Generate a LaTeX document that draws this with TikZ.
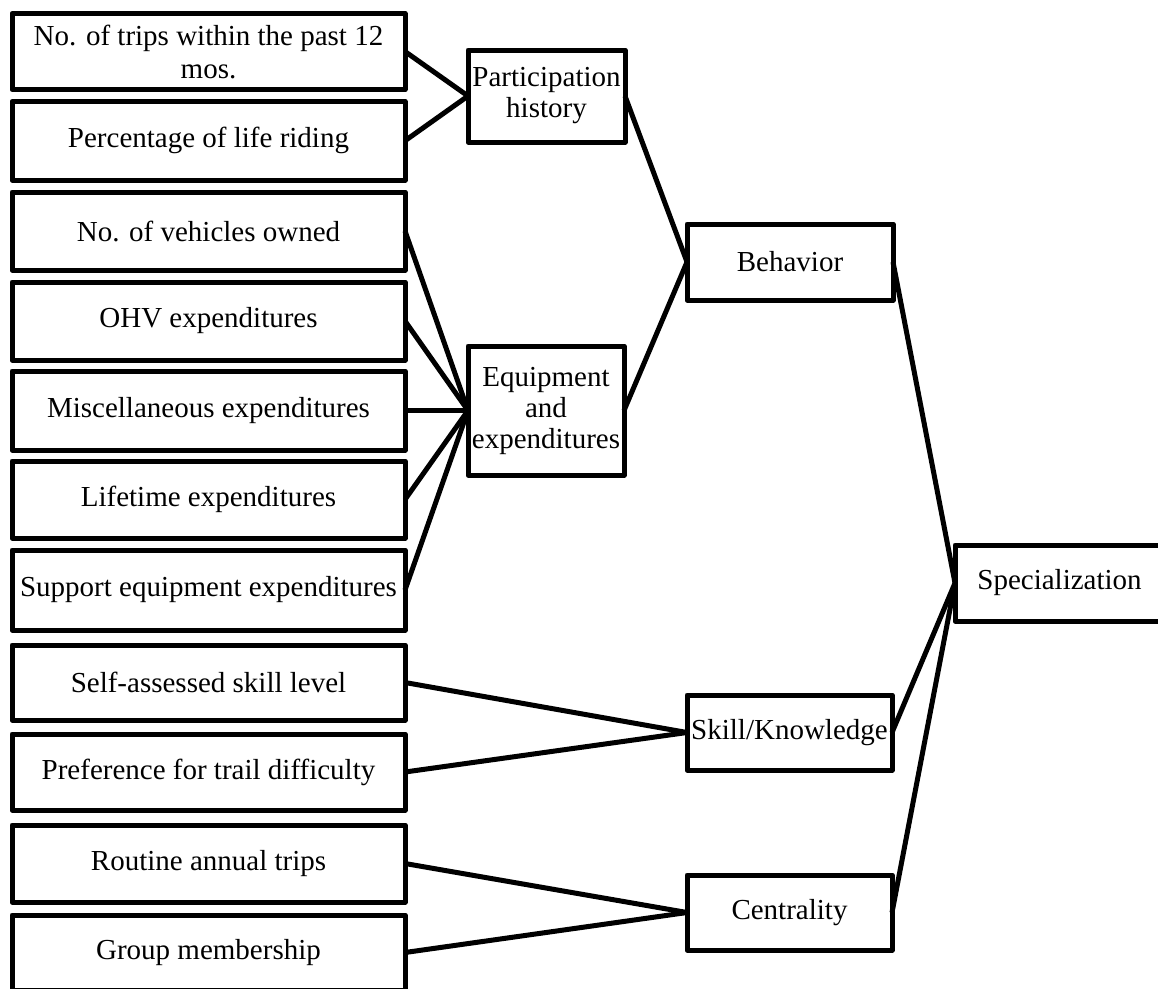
\documentclass[tikz,border=0pt]{standalone}
\usepackage{fontspec}
\setmainfont{Liberation Serif}
\begin{document}
\begin{tikzpicture}[x=1pt,y=-1pt,
  box/.style={draw, line width=5pt, line join=round, inner sep=0pt, outer sep=0pt,
    align=center, font=\fontsize{29}{31}\selectfont},
  leftbox/.style={box, minimum width=393pt},
  midbox/.style={box, minimum width=157pt},
  catbox/.style={box, minimum width=205pt},
  link/.style={line width=5pt}]
\useasboundingbox (0,0) rectangle (1158,988);
\clip (0,0) rectangle (1158,988);
\fill[white] (0,0) rectangle (1158,988);
% left indicator boxes
\node[leftbox, minimum height=76pt, font=\fontsize{29}{33}\selectfont] (l1) at (208.5,51.5) {No. of trips within the past 12\\mos.};
\node[leftbox, minimum height=78.5pt] (l2) at (208.5,140.75) {Percentage of life riding};
\node[leftbox, minimum height=78pt] (l3) at (208.5,231) {No. of vehicles owned};
\node[leftbox, minimum height=78pt] (l4) at (208.5,321) {OHV expenditures};
\node[leftbox, minimum height=79pt] (l5) at (208.5,410.5) {Miscellaneous expenditures};
\node[leftbox, minimum height=77pt] (l6) at (208.5,499.5) {Lifetime expenditures};
\node[leftbox, minimum height=80pt] (l7) at (208.5,590) {Support equipment expenditures};
\node[leftbox, minimum height=75pt] (l8) at (208.5,682.5) {Self-assessed skill level};
\node[leftbox, minimum height=76pt] (l9) at (208.5,772) {Preference for trail difficulty};
\node[leftbox, minimum height=77pt] (l10) at (208.5,863.5) {Routine annual trips};
\node[leftbox, minimum height=75pt] (l11) at (208.5,952.5) {Group membership};
% middle boxes
\node[midbox, minimum height=92pt] (part) at (546.5,96) {Participation\\history};
\node[midbox, minimum width=156pt, minimum height=129pt] (equip) at (546,410.5) {Equipment\\and\\expenditures};
% category boxes
\node[catbox, minimum width=206pt, minimum height=76pt] (beh) at (790,262) {Behavior};
\node[catbox, minimum height=75pt] (skill) at (789.5,732.5) {Skill/Knowledge};
\node[catbox, minimum height=75pt] (cent) at (789.5,912.5) {Centrality};
\node[box, minimum width=209pt, minimum height=76pt] (spec) at (1059.5,583) {Specialization};
% connectors
\draw[link] (l1.east) -- (part.west);
\draw[link] (l2.east) -- (part.west);
\draw[link] (l3.east) -- (equip.west);
\draw[link] (l4.east) -- (equip.west);
\draw[link] (l5.east) -- (equip.west);
\draw[link] (l6.east) -- (equip.west);
\draw[link] (l7.east) -- (equip.west);
\draw[link] (part.east) -- (beh.west);
\draw[link] (equip.east) -- (beh.west);
\draw[link] (l8.east) -- (skill.west);
\draw[link] (l9.east) -- (skill.west);
\draw[link] (l10.east) -- (cent.west);
\draw[link] (l11.east) -- (cent.west);
\draw[link] (beh.east) -- (spec.west);
\draw[link] (skill.east) -- (spec.west);
\draw[link] (cent.east) -- (spec.west);
\end{tikzpicture}
\end{document}
